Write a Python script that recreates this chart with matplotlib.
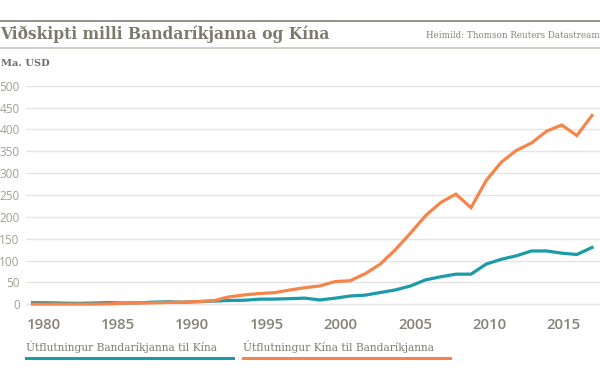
import matplotlib
import matplotlib.pyplot as plt
from matplotlib.lines import Line2D

matplotlib.use("Agg")

years = list(range(1980, 2018))
us_to_china = [3.8, 3.6, 2.9, 2.2, 3.0, 3.9, 3.1, 3.5, 5.0, 5.8,
               4.8, 6.3, 7.4, 8.8, 9.3, 11.8, 12.0, 12.9, 14.2, 10.0,
               14.0, 19.0, 21.0, 27.0, 33.0, 42.0, 56.0, 63.0, 69.0, 69.0,
               92.0, 103.0, 111.0, 122.0, 122.0, 117.0, 114.0, 130.0]
china_to_us = [0.5, 0.5, 0.5, 0.5, 0.5, 1.0, 2.5, 3.0, 3.4, 4.4,
               5.2, 6.2, 8.6, 17.0, 21.5, 24.7, 26.7, 32.7, 38.0, 42.0,
               52.0, 54.0, 70.0, 92.0, 125.0, 163.0, 203.0, 233.0, 252.0, 221.0,
               283.0, 325.0, 352.0, 369.0, 396.0, 410.0, 386.0, 432.0]
x_ticks = [1980, 1985, 1990, 1995, 2000, 2005, 2010, 2015]
y_ticks = [0, 50, 100, 150, 200, 250, 300, 350, 400, 450, 500]

title = "Viðskipti milli Bandaríkjanna og Kína"
source = "Heimild: Thomson Reuters Datastream"
unit = "Ma. USD"
label_us = "Útflutningur Bandaríkjanna til Kína"
label_cn = "Útflutningur Kína til Bandaríkjanna"

TEAL = "#1b9aa7"
ORANGE = "#f5854a"
GREY_TEXT = "#7b7a6c"

W, H = 600, 386


def fx(px):
    return px / W


def fy(py):
    return 1 - py / H


fig = plt.figure(figsize=(6, 3.86), dpi=100)
ax = fig.add_axes([fx(26), fy(308.7), fx(574), (308.7 - 85.7) / H])

ax.plot(years, us_to_china, color=TEAL, linewidth=2.3, solid_joinstyle="miter", clip_on=False)
ax.plot(years, china_to_us, color=ORANGE, linewidth=2.3, solid_joinstyle="miter", clip_on=False)

ax.set_xlim(1979.57, 2017.53)
ax.set_ylim(-10, 500)
ax.set_yticks(y_ticks)
# year labels sit on a slightly tighter grid than the data points
# (first label is pushed in so it starts at the plot edge)
ax.set_xticks([1980.74 + (y - 1980) * 0.982 for y in x_ticks])
ax.set_xticklabels([str(y) for y in x_ticks])
ax.grid(axis="y", color="#e4e4e4", linewidth=1)
ax.set_axisbelow(True)
for s in ax.spines.values():
    s.set_visible(False)
ax.tick_params(axis="both", length=0)
ax.tick_params(axis="y", pad=4.5, labelsize=8.5, labelcolor="#a19f92")
ax.tick_params(axis="x", pad=7, labelsize=10.8, labelcolor="#858376")
for lab in ax.get_yticklabels():
    lab.set_family("Open Sans")
for lab in ax.get_xticklabels():
    lab.set_family("Open Sans")
    lab.set_fontweight("semibold")

# header
fig.add_artist(Line2D([0, 1], [fy(20.5), fy(20.5)], color="#8b8a7e", linewidth=1.3))
fig.add_artist(Line2D([0, 1], [fy(47.5), fy(47.5)], color="#cfcdc4", linewidth=1.3))
fig.text(0, fy(34), title, family="DejaVu Serif", fontweight="bold", fontsize=11.2,
         color=GREY_TEXT, va="center", ha="left")
fig.text(1, fy(35), source, family="DejaVu Serif", fontsize=6.3,
         color="#858376", va="center", ha="right")
fig.text(fx(1), fy(63), unit, family="DejaVu Serif", fontweight="bold", fontsize=7.1,
         color="#6f6e62", va="center", ha="left")

# legend
fig.text(fx(26), fy(347), label_us, family="DejaVu Serif", fontsize=7.7,
         color="#7f7d71", va="center", ha="left")
fig.text(fx(243), fy(347), label_cn, family="DejaVu Serif", fontsize=7.7,
         color="#7f7d71", va="center", ha="left")
fig.add_artist(Line2D([fx(26), fx(233)], [fy(358.3), fy(358.3)], color=TEAL, linewidth=2.2))
fig.add_artist(Line2D([fx(243), fx(450)], [fy(358.3), fy(358.3)], color=ORANGE, linewidth=2.2))

fig.savefig("out.png", dpi=100)
